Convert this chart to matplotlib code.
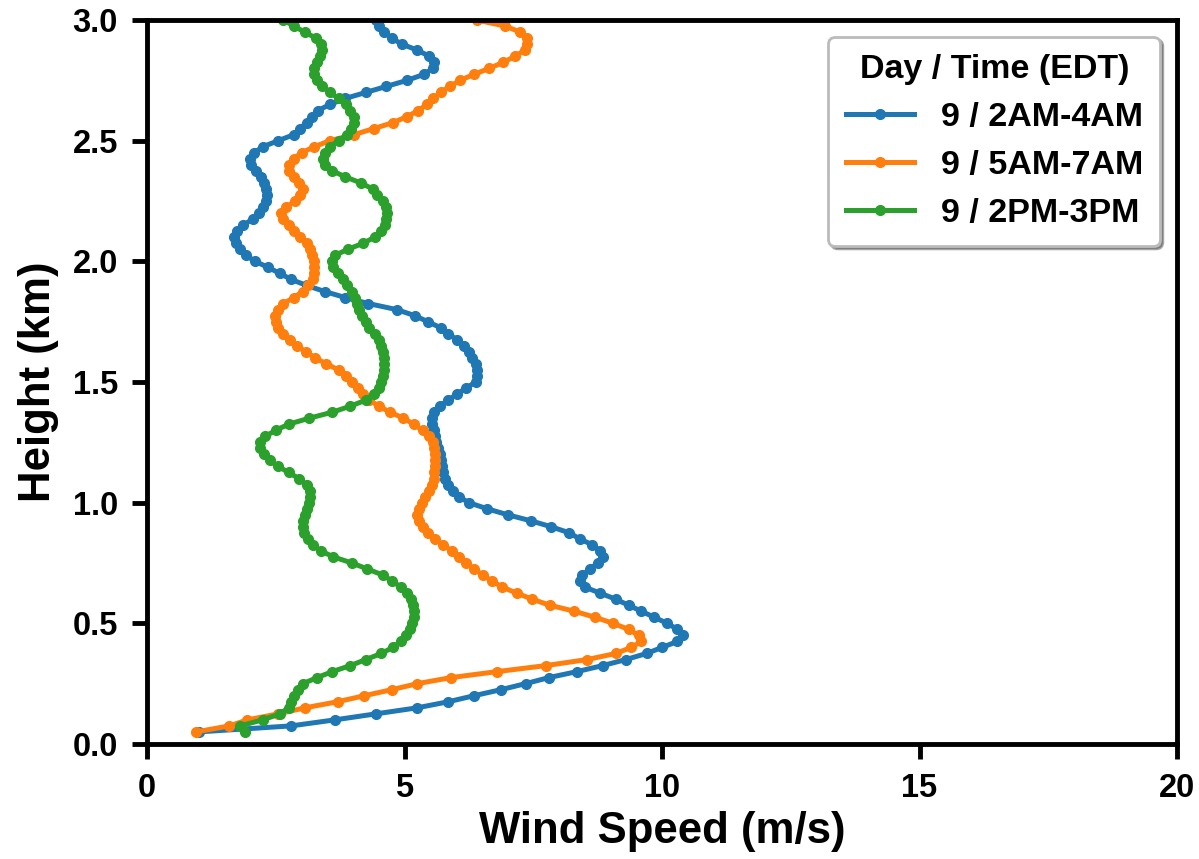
import numpy as np
import matplotlib
matplotlib.use('Agg')
import matplotlib.pyplot as plt

plt.rcParams['font.family'] = ['Liberation Sans', 'DejaVu Sans']
plt.rcParams['font.weight'] = 'bold'

# range gates (km), 0.05 to 3.0 every 25 m
height = np.round(np.arange(0.05, 3.0001, 0.025), 3)

labels = ['9 / 2AM-4AM', '9 / 5AM-7AM', '9 / 2PM-3PM']

ws_2am = [1.0, 2.8, 3.65, 4.45, 5.25, 5.85, 6.35, 6.87, 7.35, 7.8,
          8.35, 8.85, 9.3, 9.7, 10.0, 10.3, 10.4, 10.3, 10.1, 9.85,
          9.6, 9.35, 9.1, 8.8, 8.5, 8.4, 8.45, 8.6, 8.75, 8.85,
          8.8, 8.65, 8.4, 8.2, 7.85, 7.45, 7.0, 6.6, 6.25, 6.05,
          5.95, 5.85, 5.78, 5.75, 5.72, 5.7, 5.68, 5.65, 5.62, 5.6,
          5.57, 5.53, 5.53, 5.58, 5.68, 5.85, 6.02, 6.2, 6.38, 6.4,
          6.4, 6.38, 6.32, 6.25, 6.15, 6.02, 5.85, 5.7, 5.45, 5.2,
          4.85, 4.3, 3.85, 3.45, 3.1, 2.8, 2.58, 2.35, 2.1, 1.92,
          1.8, 1.72, 1.68, 1.75, 1.87, 2.05, 2.17, 2.25, 2.32, 2.33,
          2.32, 2.27, 2.22, 2.12, 2.02, 2.0, 2.08, 2.25, 2.55, 2.85,
          2.97, 3.1, 3.2, 3.32, 3.55, 3.85, 4.25, 4.65, 5.05, 5.38,
          5.55, 5.58, 5.48, 5.25, 4.95, 4.75, 4.6, 4.5, 4.45]

ws_5am = [0.95, 1.6, 1.95, 2.55, 3.07, 3.7, 4.22, 4.75, 5.25, 5.9,
          6.8, 7.75, 8.55, 9.1, 9.4, 9.6, 9.55, 9.35, 9.05, 8.7,
          8.3, 7.82, 7.48, 7.18, 6.9, 6.7, 6.52, 6.35, 6.2, 6.05,
          5.92, 5.75, 5.6, 5.45, 5.35, 5.28, 5.25, 5.28, 5.33, 5.4,
          5.48, 5.53, 5.57, 5.58, 5.6, 5.6, 5.6, 5.58, 5.55, 5.47,
          5.35, 5.18, 4.98, 4.72, 4.5, 4.32, 4.2, 4.1, 3.98, 3.87,
          3.72, 3.48, 3.27, 3.08, 2.92, 2.78, 2.65, 2.55, 2.5, 2.49,
          2.55, 2.65, 2.85, 3.02, 3.13, 3.22, 3.25, 3.25, 3.24, 3.2,
          3.17, 3.1, 2.98, 2.85, 2.75, 2.65, 2.6, 2.7, 2.88, 2.98,
          3.02, 2.95, 2.85, 2.75, 2.75, 2.85, 3.0, 3.25, 3.55, 4.02,
          4.4, 4.78, 5.05, 5.27, 5.43, 5.56, 5.7, 5.88, 6.08, 6.35,
          6.65, 6.92, 7.15, 7.33, 7.38, 7.38, 7.25, 6.95, 6.4]

ws_2pm = [1.9, 1.8, 2.25, 2.58, 2.75, 2.8, 2.86, 2.93, 3.03, 3.3,
          3.6, 3.95, 4.25, 4.55, 4.77, 4.93, 5.03, 5.1, 5.14, 5.18,
          5.18, 5.16, 5.12, 5.05, 4.93, 4.76, 4.58, 4.28, 3.98, 3.62,
          3.38, 3.22, 3.12, 3.05, 3.03, 3.03, 3.06, 3.1, 3.15, 3.17,
          3.16, 3.1, 2.95, 2.75, 2.55, 2.38, 2.27, 2.2, 2.2, 2.3,
          2.5, 2.75, 3.15, 3.6, 3.95, 4.25, 4.4, 4.5, 4.55, 4.58,
          4.6, 4.6, 4.6, 4.58, 4.55, 4.5, 4.42, 4.32, 4.25, 4.18,
          4.12, 4.08, 4.04, 3.98, 3.88, 3.8, 3.7, 3.62, 3.6, 3.65,
          3.9, 4.2, 4.42, 4.55, 4.62, 4.65, 4.66, 4.65, 4.58, 4.47,
          4.38, 4.15, 3.85, 3.6, 3.45, 3.42, 3.45, 3.55, 3.72, 3.88,
          3.97, 4.02, 4.01, 3.95, 3.86, 3.72, 3.55, 3.4, 3.3, 3.25,
          3.25, 3.3, 3.36, 3.4, 3.38, 3.28, 3.06, 2.85, 2.65]

colors = ['#1f77b4', '#ff7f0e', '#2ca02c']

fig = plt.figure(figsize=(11.99, 8.59), dpi=100)
ax = fig.add_subplot()
fig.subplots_adjust(left=0.1226, right=0.9817, bottom=0.1339, top=0.9767)

for ws, lab, c in zip([ws_2am, ws_5am, ws_2pm], labels, colors):
    ax.plot(ws, height, '-o', color=c, lw=3.6, ms=7, label=lab)

ax.set_xlim(0, 20)
ax.set_ylim(0, 3.0)
ax.set_xticks([0, 5, 10, 15, 20])
ax.set_yticks([0.0, 0.5, 1.0, 1.5, 2.0, 2.5, 3.0])
ax.set_xlabel('Wind Speed (m/s)', fontsize=31.5, fontweight='bold', labelpad=5)
ax.set_ylabel('Height (km)', fontsize=31.5, fontweight='bold', labelpad=10)
ax.tick_params(labelsize=23.5, width=3.5, length=11, pad=10)
for lbl in ax.get_xticklabels() + ax.get_yticklabels():
    lbl.set_fontweight('bold')
for s in ax.spines.values():
    s.set_linewidth(3.5)

leg = ax.legend(title='Day / Time (EDT)', fontsize=24.5, title_fontsize=24.5,
                loc='upper right', shadow=True, numpoints=1, framealpha=1,
                borderpad=0.5, handlelength=2.0)
leg.get_title().set_fontweight('bold')
leg.get_frame().set_edgecolor('#bbbbbb')
leg.get_frame().set_linewidth(2)

fig.savefig('out.png', dpi=100)
